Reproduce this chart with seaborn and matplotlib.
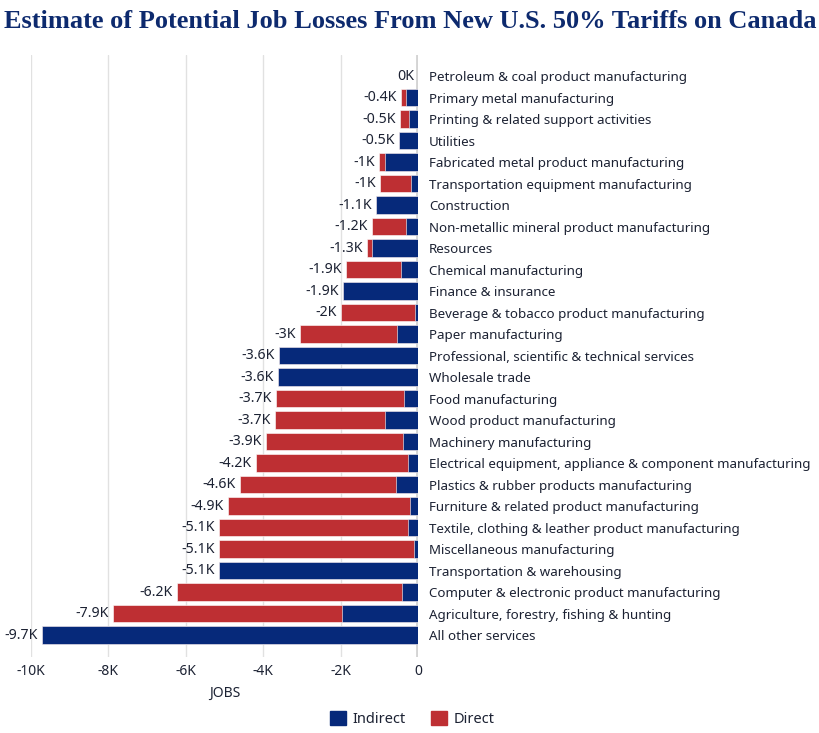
import pandas as pd
import matplotlib.pyplot as plt
import seaborn as sns
from matplotlib.patches import Patch

# --- data (jobs) ---
sectors = [
    "Petroleum & coal product manufacturing",
    "Primary metal manufacturing",
    "Printing & related support activities",
    "Utilities",
    "Fabricated metal product manufacturing",
    "Transportation equipment manufacturing",
    "Construction",
    "Non-metallic mineral product manufacturing",
    "Resources",
    "Chemical manufacturing",
    "Finance & insurance",
    "Beverage & tobacco product manufacturing",
    "Paper manufacturing",
    "Professional, scientific & technical services",
    "Wholesale trade",
    "Food manufacturing",
    "Wood product manufacturing",
    "Machinery manufacturing",
    "Electrical equipment, appliance & component manufacturing",
    "Plastics & rubber products manufacturing",
    "Furniture & related product manufacturing",
    "Textile, clothing & leather product manufacturing",
    "Miscellaneous manufacturing",
    "Transportation & warehousing",
    "Computer & electronic product manufacturing",
    "Agriculture, forestry, fishing & hunting",
    "All other services",
]
indirect = [0, -320, -240, -490, -850, -170, -1080, -310, -1190, -430,
            -1930, -80, -550, -3590, -3630, -360, -840, -390, -260, -580,
            -210, -260, -100, -5140, -420, -1970, -9710]
direct = [0, -120, -220, 0, -150, -820, 0, -870, -120, -1440,
          0, -1920, -2490, 0, 0, -3310, -2850, -3550, -3930, -4030,
          -4700, -4880, -5040, 0, -5800, -5910, 0]
xticks = [-10000, -8000, -6000, -4000, -2000, 0]
xtick_labels = ["-10K", "-8K", "-6K", "-4K", "-2K", "0"]

navy = "#06297a"
red = "#be2f33"
text_col = "#1c2233"

df = pd.DataFrame({"sector": sectors, "indirect": indirect, "direct": direct})
df["total"] = df["indirect"] + df["direct"]

sns.set_style("white")
plt.rcParams["font.family"] = ["Noto Sans", "DejaVu Sans"]

fig = plt.figure(figsize=(8.2, 7.33), dpi=100)
ax = fig.add_axes([31 / 820, 1 - 657 / 733, 387 / 820, 602 / 733])

for x in xticks[:-1]:
    ax.axvline(x, color="#e1e1e1", lw=1, zorder=0)
ax.axvline(0, color="#d4d4d4", lw=3.5, zorder=0)

# total first (red), indirect on top (navy) -> stacked look
sns.barplot(data=df, x="total", y="sector", orient="h", color=red,
            saturation=1, width=0.8, ax=ax, edgecolor="white", linewidth=0.4)
sns.barplot(data=df, x="indirect", y="sector", orient="h", color=navy,
            saturation=1, width=0.8, ax=ax, edgecolor="white", linewidth=0.4)

for i, t in enumerate(df["total"]):
    lab = f"{t / 1000:.1f}".replace(".0", "") + "K"
    ax.annotate(lab, (t, i), xytext=(-3, 0), textcoords="offset points",
                ha="right", va="center", fontsize=10.2, color=text_col)

ax.set_xlim(-10000, 0)
ax.set_ylim(len(sectors) - 1 + 1.02, -0.98)
ax.set_xticks(xticks)
ax.set_xticklabels(xtick_labels, fontsize=10, color=text_col)
ax.yaxis.tick_right()
ax.tick_params(axis="y", length=0, pad=8, labelsize=9.6, labelcolor=text_col)
ax.tick_params(axis="x", length=0, pad=5)
ax.set_ylabel("")
ax.set_xlabel("JOBS", fontsize=10, color=text_col, labelpad=5)
sns.despine(ax=ax, left=True, bottom=True)

fig.text(0.5, 1 - 22 / 733, "Estimate of Potential Job Losses From New U.S. 50% Tariffs on Canada",
         ha="center", va="center", fontsize=19, fontweight="bold", color="#0d2a6e",
         family="Liberation Serif")

handles = [Patch(color=navy, label="Indirect"), Patch(color=red, label="Direct")]
fig.legend(handles=handles, loc="center", bbox_to_anchor=(0.503, 1 - 719 / 733), ncol=2,
           frameon=False, fontsize=10.5, handlelength=1.1, handleheight=1.1,
           handletextpad=0.45, columnspacing=1.7, labelcolor=text_col)

fig.savefig("out.png", dpi=100)
